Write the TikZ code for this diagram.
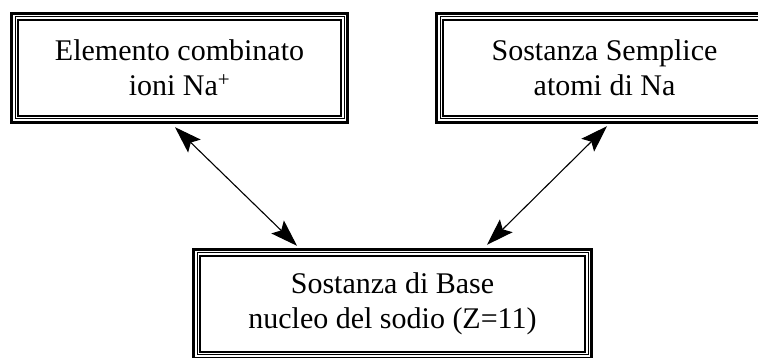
\documentclass[tikz,border=0pt]{standalone}
\usepackage{fontspec}
\setmainfont{Liberation Serif}
\usetikzlibrary{arrows.meta,calc}
\begin{document}
\begin{tikzpicture}[x=1pt,y=1pt,
  tribox/.style={inner sep=0pt, align=center, minimum height=112pt,
    font=\fontsize{30}{35}\selectfont},
  outerline/.style={line width=3.2pt},
  midline/.style={line width=1pt},
  innerline/.style={line width=2pt},
  link/.style={line width=1.1pt, {Stealth[length=27pt,width=18pt,inset=5pt]}-{Stealth[length=27pt,width=18pt,inset=5pt]}}]
\useasboundingbox (0,0) rectangle (758,358);
\fill[white] (0,0) rectangle (758,358);
\node[tribox, minimum width=339pt] (b1) at (179.5,290) {Elemento combinato\\ioni Na\textsuperscript{+}};
\node[tribox, minimum width=339pt] (b2) at (604.5,290) {Sostanza Semplice\\atomi di Na};
\node[tribox, minimum width=401pt] (b3) at (392.5,54) {Sostanza di Base\\nucleo del sodio (Z=11)};
\foreach \n in {b1,b2,b3}{
  \draw[outerline] ([shift={(1.6,-1.6)}]\n.north west) rectangle ([shift={(-1.6,1.6)}]\n.south east);
  \draw[midline] ([shift={(5.2,-5.2)}]\n.north west) rectangle ([shift={(-5.2,5.2)}]\n.south east);
  \draw[innerline] ([shift={(8.5,-8.5)}]\n.north west) rectangle ([shift={(-8.5,8.5)}]\n.south east);
}
\coordinate (a1) at ($(b1.south)+(-4.5,-3)$);
\coordinate (a2) at ($(b3.north)+(-95.5,2)$);
\coordinate (c1) at ($(b2.south)+(2.5,-2)$);
\coordinate (c2) at ($(b3.north)+(94.5,3)$);
\draw[link] (a1) -- (a2);
\draw[link] (c1) -- (c2);
\end{tikzpicture}
\end{document}
